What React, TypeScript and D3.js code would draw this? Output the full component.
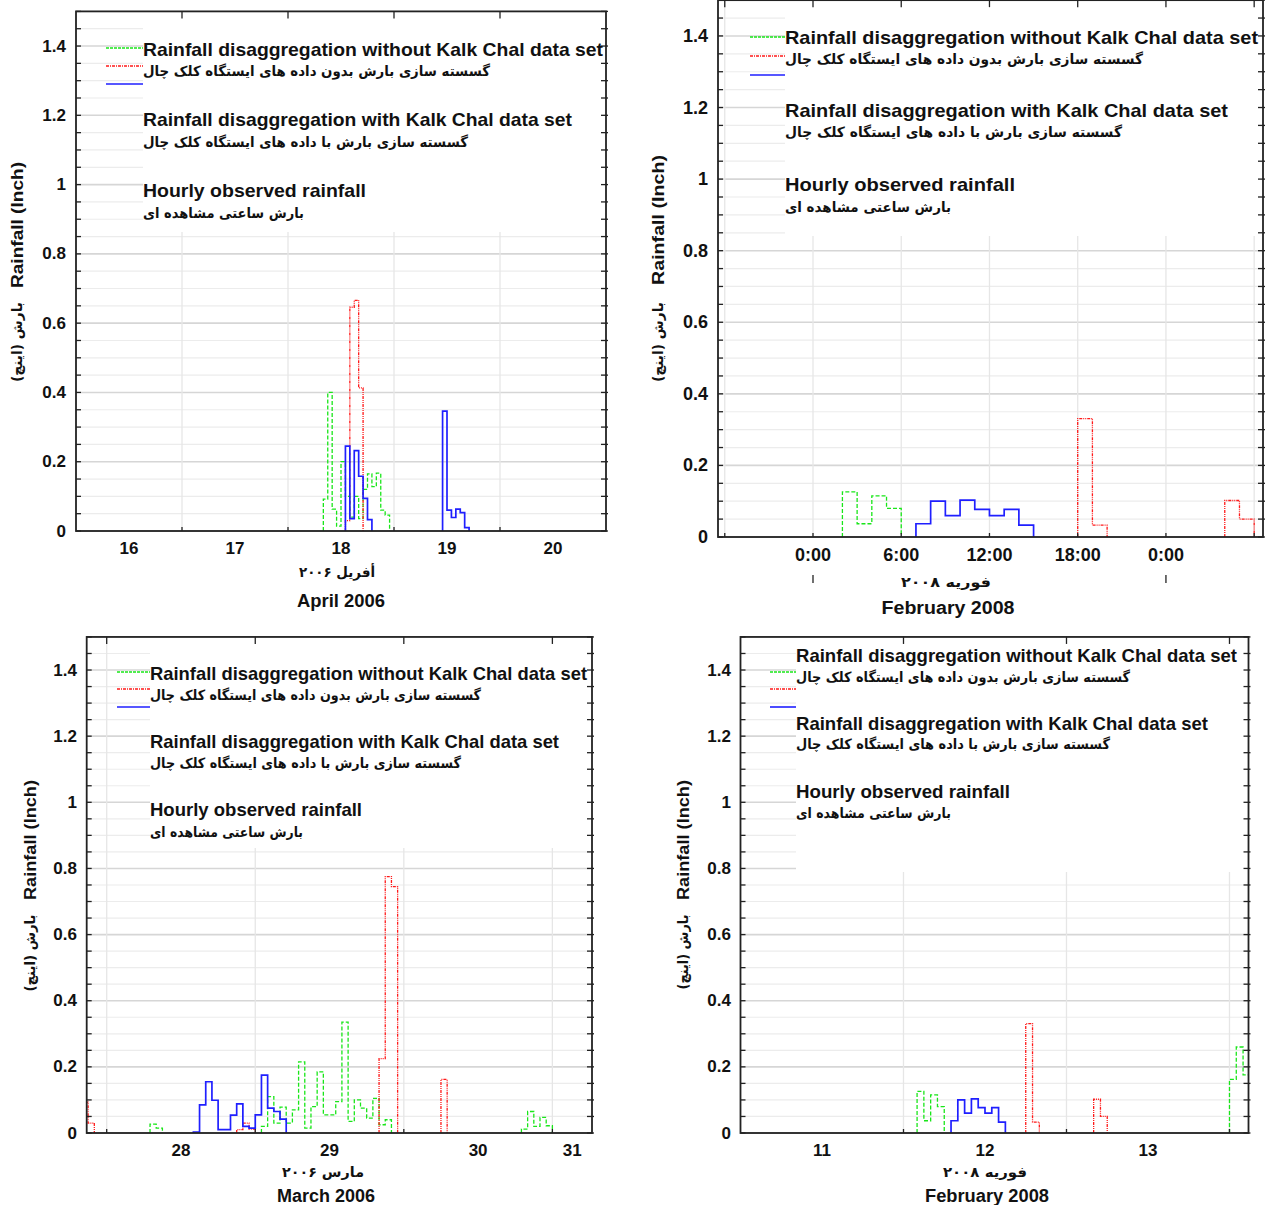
import React from "react";
import * as d3 from "d3";

type Burst = { start: number; values: number[] };

const W = 1266,
  H = 1205;

// ---- April 2006 (hours from 16 Apr 00:00)
const aprWithout: Burst[] = [
  { start: 56, values: [0.092, 0.4, 0.063, 0.014, 0.2, 0.1, 0.04, 0.1, 0.036, 0.12, 0.165, 0.128, 0.167, 0.06, 0.046] },
];
const aprWith: Burst[] = [{ start: 61, values: [0.03, 0.646, 0.666, 0.413] }];
const aprObserved: Burst[] = [
  { start: 61, values: [0.245, 0.036, 0.232, 0.158, 0.094, 0.033] },
  { start: 83, values: [0.346, 0.06, 0.039, 0.063, 0.053, 0.01] },
];

// ---- March 2006 (hours from 28 Mar 00:00)
const marWithout: Burst[] = [
  { start: 7, values: [0.027, 0.015] },
  {
    start: 25,
    values: [0.02, 0.11, 0.03, 0.078, 0.03, 0.07, 0.215, 0.015, 0.08, 0.185, 0.055, 0.055, 0.095, 0.335, 0.035, 0.1, 0.075, 0.045, 0.105, 0.025, 0.04],
  },
  { start: 67, values: [0.012, 0.065, 0.02, 0.047, 0.022] },
];
const marWith: Burst[] = [
  { start: -4, values: [0.093, 0.03] },
  { start: 21, values: [0.01, 0.03, 0.012] },
  { start: 44, values: [0.225, 0.775, 0.745] },
  { start: 54, values: [0.162] },
];
const marObserved: Burst[] = [
  { start: 14, values: [0.003, 0.085, 0.155, 0.099, 0.01, 0.01, 0.054, 0.088, 0.02, 0.015, 0.055, 0.175, 0.075, 0.065, 0.042] },
];

// ---- February 2008 (hours from 11 Feb 00:00)
const febWithout: Burst[] = [
  { start: 26, values: [0.126, 0.037, 0.115, 0.08] },
  { start: 72, values: [0.162, 0.26, 0.176] },
];
const febWith: Burst[] = [
  { start: 42, values: [0.331, 0.033] },
  { start: 52, values: [0.102, 0.05] },
];
const febObserved: Burst[] = [{ start: 31, values: [0.037, 0.1, 0.06, 0.103, 0.077, 0.06, 0.077, 0.033] }];

const yMajor = [0, 0.2, 0.4, 0.6, 0.8, 1, 1.2, 1.4];
const legendEn = [
  "Rainfall disaggregation without Kalk Chal data set",
  "Rainfall disaggregation with Kalk Chal data set",
  "Hourly observed rainfall",
];
const legendFa = [
  "گسسته سازی بارش بدون داده های ایستگاه کلک چال",
  "گسسته سازی بارش با داده های ایستگاه کلک چال",
  "بارش ساعتی مشاهده ای",
];
const yTitleEn = "Rainfall (Inch)";
const yTitleFa = "بارش (اینچ)";

const EN = "'Liberation Sans', Arial, sans-serif";
const FA = "'DejaVu Sans', sans-serif";

const GREEN = "#19e619";
const RED = "#ff1a1a";
const BLUE = "#1f1fff";

type PanelCfg = {
  id: string;
  left: number;
  right: number;
  zeroY: number;
  unit: number;
  domain: [number, number];
  mode: "days" | "hours";
  baseDay: number;
  without: Burst[];
  withK: Burst[];
  observed: Burst[];
  tickEnd: number;
  tickY: number;
  faTitle: string;
  faX: number;
  faY: number;
  faLen: number;
  enTitle: string;
  enX: number;
  enY: number;
  enLen: number;
  yT: { x: number; en: number; enLen: number; fa: number; faLen: number };
  legX: number;
  legBottom: number;
  legLens: number[];
  legBase: number[];
  symX: [number, number];
  symY: number[];
  tickSize: number;
};

const panels: PanelCfg[] = [
  {
    id: "p1", left: 76, right: 606, zeroY: 531, unit: 346.4, domain: [0, 120], mode: "days", baseDay: 16,
    without: aprWithout, withK: aprWith, observed: aprObserved,
    tickEnd: 66, tickY: 548,
    faTitle: "أفریل ۲۰۰۶", faX: 337, faY: 572, faLen: 76,
    enTitle: "April 2006", enX: 341, enY: 601, enLen: 88,
    yT: { x: 17, en: 225, enLen: 126, fa: 342, faLen: 80 },
    legX: 143, legBottom: 232, legLens: [460, 347, 429, 325, 223, 161], legBase: [55.7, 76, 126, 147, 197, 218],
    symX: [106, 143], symY: [48, 66, 84], tickSize: 17,
  },
  {
    id: "p2", left: 718, right: 1263, zeroY: 537, unit: 357.9, domain: [17.54, 54.6], mode: "hours", baseDay: 11,
    without: febWithout, withK: febWith, observed: febObserved,
    tickEnd: 708, tickY: 555,
    faTitle: "فوریه ۲۰۰۸", faX: 946, faY: 582, faLen: 90,
    enTitle: "February 2008", enX: 948, enY: 608, enLen: 133,
    yT: { x: 658, en: 220, enLen: 130, fa: 342, faLen: 80 },
    legX: 785, legBottom: 236, legLens: [473, 358, 443, 337, 230, 166], legBase: [43.5, 64, 117, 137, 191, 212],
    symX: [750, 785], symY: [37, 56, 75], tickSize: 18,
  },
  {
    id: "p3", left: 86.7, right: 592, zeroY: 1133, unit: 330.7, domain: [-3.23, 78.4], mode: "days", baseDay: 28,
    without: marWithout, withK: marWith, observed: marObserved,
    tickEnd: 77, tickY: 1150,
    faTitle: "مارس ۲۰۰۶", faX: 323, faY: 1172, faLen: 82,
    enTitle: "March 2006", enX: 326, enY: 1196, enLen: 98,
    yT: { x: 30, en: 840, enLen: 120, fa: 953, faLen: 77 },
    legX: 150, legBottom: 848, legLens: [437, 331, 409, 311, 212, 153], legBase: [680, 700, 748, 768, 816, 837],
    symX: [117, 150], symY: [672, 689, 707], tickSize: 17,
  },
  {
    id: "p4", left: 740.5, right: 1248.5, zeroY: 1133, unit: 330.7, domain: [0, 74.8], mode: "days", baseDay: 11,
    without: febWithout, withK: febWith, observed: febObserved,
    tickEnd: 731, tickY: 1150,
    faTitle: "فوریه ۲۰۰۸", faX: 985, faY: 1172, faLen: 84,
    enTitle: "February 2008", enX: 987, enY: 1196, enLen: 124,
    yT: { x: 683, en: 840, enLen: 120, fa: 952, faLen: 75 },
    legX: 796, legBottom: 872, legLens: [441, 334, 412, 314, 214, 155], legBase: [662, 682, 730, 749, 798, 818],
    symX: [770, 796], symY: [672, 689, 707], tickSize: 17,
  },
];

function Panel({ p }: { p: PanelCfg }) {
  const x = d3.scaleLinear().domain(p.domain).range([p.left, p.right]);
  const y = d3.scaleLinear().domain([0, 1.5]).range([p.zeroY, p.zeroY - 1.5 * p.unit]);
  const top = y(1.5);
  const minor = d3.range(0, 1.5001, 0.05);

  // vertical grid positions and x labels
  let vgrid: number[] = [];
  let xLabels: { pos: number; text: string }[] = [];
  if (p.mode === "days") {
    const first = Math.floor(p.domain[0] / 24);
    const last = Math.ceil(p.domain[1] / 24);
    for (let d = first; d < last; d++) {
      const s = Math.max(d * 24, p.domain[0]);
      const e = Math.min((d + 1) * 24, p.domain[1]);
      if (d * 24 > p.domain[0]) vgrid.push(d * 24);
      if ((e - s) / 24 > 0.2) xLabels.push({ pos: (x(s) + x(e)) / 2, text: String(p.baseDay + d) });
    }
  } else {
    vgrid = d3.range(Math.ceil(p.domain[0] / 6) * 6, p.domain[1], 6);
    xLabels = vgrid
      .filter((h) => x(h) - p.left > 40 && p.right - x(h) > 40)
      .map((h) => ({ pos: x(h), text: `${h % 24}:00` }));
  }
  const dayMarks = p.mode === "hours" ? vgrid.filter((h) => h % 24 === 0) : [];

  const line = d3
    .line<[number, number]>()
    .x((d) => x(d[0]))
    .y((d) => y(d[1]))
    .curve(d3.curveStepAfter);
  const path = (b: Burst) => {
    const pts: [number, number][] = [[b.start, 0]];
    b.values.forEach((v, i) => pts.push([b.start + i, v]));
    pts.push([b.start + b.values.length, 0]);
    return line(pts) || "";
  };

  const series = [
    { data: p.without, color: GREEN, dash: "4,2", w: 1.3 },
    { data: p.withK, color: RED, dash: "3,1,1,1,1,1", w: 1.3 },
    { data: p.observed, color: BLUE, dash: undefined, w: 1.7 },
  ];

  return (
    <g>
      <defs>
        <clipPath id={`clip-${p.id}`}>
          <rect x={p.left} y={top} width={p.right - p.left} height={p.zeroY - top} />
        </clipPath>
      </defs>
      {/* grid */}
      {minor.map((v, i) => {
        const major = Math.abs(v / 0.2 - Math.round(v / 0.2)) < 1e-6;
        return (
          <line key={"h" + i} x1={p.left} x2={p.right} y1={y(v)} y2={y(v)}
            stroke={major ? "#d6d6d6" : "#ececec"} strokeWidth={major ? 1.6 : 1.2} />
        );
      })}
      {vgrid.map((h) => (
        <line key={"v" + h} x1={x(h)} x2={x(h)} y1={top} y2={p.zeroY} stroke="#e6e6e6" strokeWidth={1.3} />
      ))}
      {/* legend background */}
      <rect x={p.legX} y={top} width={p.right - p.legX} height={p.legBottom - top} fill="#fff" />
      {/* series */}
      <g clipPath={`url(#clip-${p.id})`}>
        {series.map((s, si) =>
          s.data.map((b, bi) => (
            <path key={`${si}-${bi}`} d={path(b)} fill="none" stroke={s.color}
              strokeWidth={s.w} strokeDasharray={s.dash} />
          )),
        )}
      </g>
      {/* frame and ticks */}
      <rect x={p.left} y={top} width={p.right - p.left} height={p.zeroY - top} fill="none" stroke="#222" strokeWidth={1.8} />
      {minor.map((v, i) => (
        <g key={"t" + i} stroke="#222" strokeWidth={1.3}>
          <line x1={p.left} x2={p.left + 5} y1={y(v)} y2={y(v)} />
          <line x1={p.right - 5} x2={p.right + 2} y1={y(v)} y2={y(v)} />
        </g>
      ))}
      {vgrid.map((h) => (
        <g key={"tx" + h} stroke="#222" strokeWidth={1.3}>
          <line x1={x(h)} x2={x(h)} y1={top} y2={top + 7} />
          <line x1={x(h)} x2={x(h)} y1={p.zeroY} y2={p.zeroY - 4} />
        </g>
      ))}
      {/* y tick labels */}
      {yMajor.map((v) => (
        <text key={"yl" + v} x={p.tickEnd} y={y(v)} textAnchor="end" dominantBaseline="central"
          fontFamily={EN} fontWeight="bold" fontSize={p.tickSize} fill="#111">
          {String(+v.toFixed(1))}
        </text>
      ))}
      {/* x tick labels */}
      {xLabels.map((l, i) => (
        <text key={"xl" + i} x={l.pos} y={p.tickY} textAnchor="middle" dominantBaseline="central"
          fontFamily={EN} fontWeight="bold" fontSize={p.tickSize} fill="#111">
          {l.text}
        </text>
      ))}
      {dayMarks.map((h) => (
        <line key={"dm" + h} x1={x(h)} x2={x(h)} y1={575} y2={583} stroke="#222" strokeWidth={1.3} />
      ))}
      {/* axis titles */}
      <text x={p.faX} y={p.faY} textAnchor="middle" dominantBaseline="central" fontFamily={FA}
        fontWeight="bold" fontSize={14} textLength={p.faLen} lengthAdjust="spacingAndGlyphs" fill="#111">
        {p.faTitle}
      </text>
      <text x={p.enX} y={p.enY} textAnchor="middle" dominantBaseline="central" fontFamily={EN}
        fontWeight="bold" fontSize={18} textLength={p.enLen} lengthAdjust="spacingAndGlyphs" fill="#111">
        {p.enTitle}
      </text>
      <text x={p.yT.x} y={p.yT.en} transform={`rotate(-90 ${p.yT.x} ${p.yT.en})`} textAnchor="middle"
        dominantBaseline="central" fontFamily={EN} fontWeight="bold" fontSize={17}
        textLength={p.yT.enLen} lengthAdjust="spacingAndGlyphs" fill="#111">
        {yTitleEn}
      </text>
      <text x={p.yT.x} y={p.yT.fa} transform={`rotate(-90 ${p.yT.x} ${p.yT.fa})`} textAnchor="middle"
        dominantBaseline="central" fontFamily={FA} fontWeight="bold" fontSize={14}
        textLength={p.yT.faLen} lengthAdjust="spacingAndGlyphs" fill="#111">
        {yTitleFa}
      </text>
      {/* legend */}
      <line x1={p.symX[0]} x2={p.symX[1]} y1={p.symY[0]} y2={p.symY[0]} stroke={GREEN} strokeWidth={1.3} strokeDasharray="3,1" />
      <line x1={p.symX[0]} x2={p.symX[1]} y1={p.symY[1]} y2={p.symY[1]} stroke={RED} strokeWidth={1.3} strokeDasharray="3,1,1,1" />
      <line x1={p.symX[0]} x2={p.symX[1]} y1={p.symY[2]} y2={p.symY[2]} stroke={BLUE} strokeWidth={1.6} />
      {[0, 1, 2].map((k) => (
        <g key={"lg" + k}>
          <text x={p.legX} y={p.legBase[2 * k]} fontFamily={EN} fontWeight="bold" fontSize={18.5}
            textLength={p.legLens[2 * k]} lengthAdjust="spacingAndGlyphs" fill="#111">
            {legendEn[k]}
          </text>
          <text x={p.legX} y={p.legBase[2 * k + 1]} fontFamily={FA} fontWeight="bold" fontSize={14}
            textLength={p.legLens[2 * k + 1]} lengthAdjust="spacingAndGlyphs" fill="#111">
            {legendFa[k]}
          </text>
        </g>
      ))}
    </g>
  );
}

export default function App() {
  return (
    <svg width={W} height={H} style={{ position: "absolute", left: 0, top: 0, background: "#fff" }}>
      <rect width={W} height={H} fill="#fff" />
      {panels.map((p) => (
        <Panel key={p.id} p={p} />
      ))}
    </svg>
  );
}
